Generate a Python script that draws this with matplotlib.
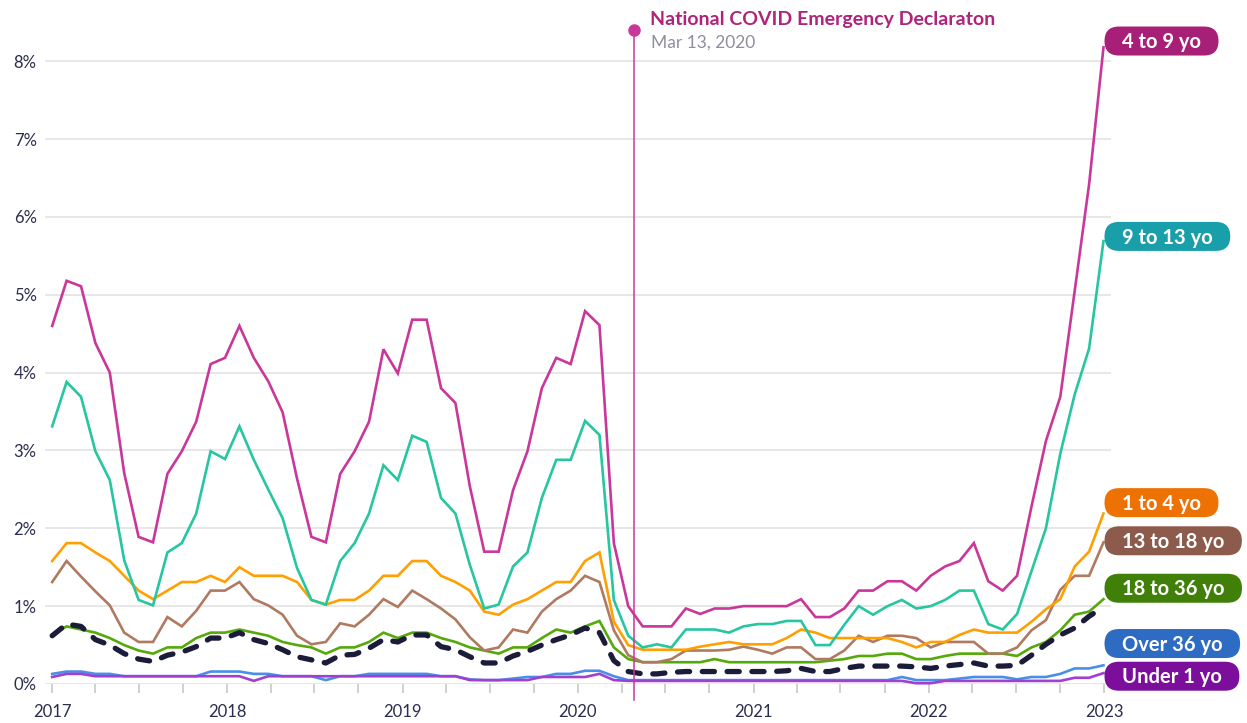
import matplotlib
matplotlib.use('Agg')
import matplotlib.pyplot as plt
import matplotlib.dates as mdates
from matplotlib.patches import FancyBboxPatch
from matplotlib.transforms import IdentityTransform
import pandas as pd

plt.rcParams['font.family'] = ['Lato', 'DejaVu Sans']

# ---------------- data ----------------
periods = pd.date_range('2017-01-01', periods=74, freq='30D')

age_4_9 = [4.60, 5.18, 5.11, 4.38, 4.00, 2.71, 1.89, 1.82, 2.70, 2.99, 3.37, 4.11, 4.19, 4.60, 4.19, 3.89, 3.49, 2.64, 1.89, 1.82, 2.70, 2.99, 3.37, 4.30, 3.99,
           4.68, 4.68, 3.80, 3.61, 2.54, 1.70, 1.70, 2.49, 2.99, 3.80, 4.19, 4.11, 4.79, 4.61, 1.81, 1.00,
           0.74, 0.74, 0.74, 0.97, 0.90, 0.97, 0.97,
           1.00, 1.00, 1.00, 1.00,
           1.09, 0.86, 0.86, 0.97, 1.20, 1.20, 1.32, 1.32, 1.20, 1.39, 1.51, 1.58, 1.81, 1.32, 1.20, 1.39,
           2.28, 3.12, 3.69, 5.05, 6.42, 8.18]

age_9_13 = [3.31, 3.88, 3.69, 2.99, 2.62, 1.59, 1.08, 1.01, 1.69, 1.81, 2.19, 2.99, 2.89, 3.31, 2.88, 2.50, 2.13, 1.49, 1.08, 1.02, 1.58, 1.81, 2.19, 2.81, 2.62,
            3.19, 3.11, 2.39, 2.19, 1.53, 0.97, 1.02, 1.51, 1.69, 2.39, 2.88, 2.88, 3.38, 3.20, 1.08, 0.62,
            0.47, 0.51, 0.47, 0.70, 0.70, 0.70, 0.66,
            0.74, 0.77, 0.77, 0.81, 0.81, 0.50, 0.50, 0.76, 1.00, 0.89, 1.00, 1.08, 0.97, 1.00, 1.08, 1.20, 1.20, 0.77, 0.70, 0.90,
            1.45, 2.00, 2.96, 3.72, 4.31, 5.69]

age_1_4 = [1.58, 1.81, 1.81, 1.69, 1.58, 1.39, 1.20, 1.09, 1.20, 1.31, 1.31, 1.39, 1.31, 1.50, 1.39, 1.39, 1.39, 1.31, 1.08, 1.02, 1.08, 1.08, 1.20, 1.39, 1.39,
           1.58, 1.58, 1.39, 1.31, 1.20, 0.93, 0.89, 1.02, 1.09, 1.20, 1.31, 1.31, 1.58, 1.69, 0.80, 0.50,
           0.44, 0.44, 0.44, 0.44, 0.48, 0.51, 0.54,
           0.51, 0.51, 0.51, 0.59, 0.70, 0.66, 0.59, 0.59, 0.59, 0.59, 0.59, 0.54, 0.47, 0.54, 0.54, 0.63, 0.70, 0.66, 0.66, 0.66,
           0.80, 0.96, 1.09, 1.51, 1.70, 2.19]

age_13_18 = [1.31, 1.58, 1.38, 1.19, 1.01, 0.66, 0.54, 0.54, 0.86, 0.74, 0.94, 1.20, 1.20, 1.31, 1.09, 1.01, 0.89, 0.62, 0.51, 0.54, 0.78, 0.74, 0.89, 1.09, 0.99,
             1.20, 1.09, 0.97, 0.83, 0.60, 0.43, 0.47, 0.70, 0.66, 0.93, 1.09, 1.20, 1.39, 1.31, 0.69, 0.37,
             0.28, 0.28, 0.32, 0.43, 0.43, 0.43, 0.44,
             0.48, 0.44, 0.39, 0.47, 0.47, 0.32, 0.32, 0.43, 0.62, 0.54, 0.62, 0.62, 0.59, 0.47, 0.54, 0.54, 0.54, 0.39, 0.39, 0.47,
             0.69, 0.82, 1.21, 1.39, 1.39, 1.82]

age_18_36 = [0.63, 0.74, 0.70, 0.66, 0.59, 0.50, 0.43, 0.39, 0.47, 0.47, 0.59, 0.66, 0.66, 0.70, 0.66, 0.62, 0.54, 0.50, 0.47, 0.39, 0.47, 0.47, 0.54, 0.66, 0.59,
             0.66, 0.66, 0.59, 0.54, 0.47, 0.43, 0.39, 0.47, 0.47, 0.59, 0.70, 0.66, 0.74, 0.81, 0.47, 0.32,
             0.28, 0.28, 0.28, 0.28, 0.28, 0.32, 0.28,
             0.28, 0.28, 0.28, 0.28, 0.28, 0.28, 0.30, 0.32, 0.36, 0.36, 0.39, 0.39, 0.32, 0.32, 0.36, 0.39, 0.39, 0.39, 0.39, 0.36,
             0.47, 0.54, 0.69, 0.89, 0.93, 1.09]

over_36 = [0.13, 0.16, 0.16, 0.13, 0.13, 0.10, 0.10, 0.10, 0.10, 0.10, 0.10, 0.16, 0.16, 0.16, 0.13, 0.13, 0.10, 0.10, 0.10, 0.05, 0.10, 0.10, 0.13, 0.13, 0.13,
           0.13, 0.13, 0.10, 0.10, 0.06, 0.05, 0.05, 0.07, 0.09, 0.09, 0.13, 0.13, 0.17, 0.17, 0.10, 0.05,
           0.05, 0.05, 0.05, 0.05, 0.05, 0.05, 0.05,
           0.05, 0.05, 0.05, 0.05, 0.05, 0.05, 0.05, 0.05, 0.05, 0.05, 0.05, 0.09, 0.05, 0.05, 0.05, 0.07, 0.09, 0.09, 0.09, 0.06,
           0.09, 0.09, 0.13, 0.20, 0.20, 0.24]

under_1 = [0.09, 0.13, 0.13, 0.10, 0.10, 0.10, 0.10, 0.10, 0.10, 0.10, 0.10, 0.10, 0.10, 0.10, 0.04, 0.10, 0.10, 0.10, 0.10, 0.10, 0.10, 0.10, 0.10, 0.10, 0.10,
           0.10, 0.10, 0.10, 0.10, 0.05, 0.05, 0.05, 0.05, 0.05, 0.09, 0.09, 0.09, 0.09, 0.13, 0.05, 0.04,
           0.04, 0.04, 0.04, 0.04, 0.04, 0.04, 0.04,
           0.04, 0.04, 0.04, 0.04, 0.04, 0.04, 0.04, 0.04, 0.04, 0.04, 0.04, 0.04, 0.01, 0.01, 0.04, 0.04, 0.04, 0.04, 0.04, 0.04,
           0.04, 0.04, 0.04, 0.08, 0.08, 0.14]

overall = [0.62, 0.77, 0.74, 0.57, 0.50, 0.39, 0.32, 0.29, 0.37, 0.41, 0.48, 0.59, 0.59, 0.66, 0.57, 0.52, 0.44, 0.35, 0.31, 0.27, 0.37, 0.38, 0.46, 0.57, 0.54,
           0.63, 0.63, 0.48, 0.44, 0.35, 0.27, 0.27, 0.36, 0.42, 0.50, 0.57, 0.63, 0.72, 0.66, 0.30, 0.16,
           0.13, 0.13, 0.15, 0.16, 0.16, 0.16, 0.16,
           0.16, 0.16, 0.16, 0.17, 0.20, 0.16, 0.16, 0.20, 0.23, 0.23, 0.23, 0.23, 0.22, 0.20, 0.23, 0.25, 0.27, 0.23, 0.23, 0.24,
           0.37, 0.51, 0.63, 0.72, 0.87, 0.99]

series = [
    # name, values, line colour, label box colour, label y (%)
    ('Over 36 yo', over_36, '#4A8FE7', '#2E6BC3', 0.52),
    ('Under 1 yo', under_1, '#A13FD0', '#7B0E9B', 0.10),
    ('18 to 36 yo', age_18_36, '#55A90A', '#408009', 1.23),
    ('13 to 18 yo', age_13_18, '#B07A60', '#8C5B4B', 1.84),
    ('1 to 4 yo', age_1_4, '#FFA000', '#EE7203', 2.33),
    ('9 to 13 yo', age_9_13, '#26C6A0', '#189FAA', 5.75),
    ('4 to 9 yo', age_4_9, '#C9379B', '#A81F78', 8.26),
]

covid_date = pd.Timestamp('2020-04-26')
covid_title = 'National COVID Emergency Declaraton'
covid_sub = 'Mar 13, 2020'
y_ticks = [0, 1, 2, 3, 4, 5, 6, 7, 8]

# ---------------- figure ----------------
W, H = 1247, 723
fig = plt.figure(figsize=(W / 100, H / 100), dpi=100)
ax = fig.add_axes([45 / W, 39 / H, (1110.7 - 45) / W, (684 - 45.7) / H])

for name, vals, col, bcol, ly in series:
    ax.plot(periods, vals, color=col, lw=1.9, solid_joinstyle='miter', zorder=3, clip_on=False)

ax.plot(periods, overall, color='#1B1B3A', lw=3.8, linestyle=(0, (2.3, 2.4)),
        dash_capstyle='round', zorder=4, clip_on=False)

ax.set_xlim(pd.Timestamp('2016-12-17'), pd.Timestamp('2023-01-15'))
ax.set_ylim(0, 8.2)

ax.set_yticks(y_ticks)
ax.set_yticklabels([f'{v}%' for v in y_ticks])
ax.yaxis.grid(True, color='#e3e3e3', lw=1.2)
ax.set_axisbelow(True)
for s in ax.spines.values():
    s.set_visible(False)

ax.xaxis.set_major_locator(mdates.YearLocator())
ax.xaxis.set_major_formatter(mdates.DateFormatter('%Y'))
ax.xaxis.set_minor_locator(mdates.MonthLocator(bymonth=[4, 7, 10]))
ax.tick_params(axis='x', which='both', length=6.5, width=1.2, color='#c8c8c8',
               pad=8, labelsize=12, labelcolor='#2B2D4F')
ax.tick_params(axis='y', length=0, pad=6, labelsize=12, labelcolor='#2B2D4F')

# covid marker
ax.plot([covid_date, covid_date], [-0.21, 8.40], color='#C9379B', lw=1.1,
        clip_on=False, zorder=5)
ax.plot([covid_date], [8.40], 'o', color='#C9379B', ms=8, clip_on=False, zorder=6)
ax.annotate(covid_title, xy=(covid_date, 8.40), xytext=(16, 5), textcoords='offset pixels',
            ha='left', va='baseline', fontsize=14, fontweight='bold', color='#B0237B',
            annotation_clip=False)
ax.annotate(covid_sub, xy=(covid_date, 8.40), xytext=(17, -17), textcoords='offset pixels',
            ha='left', va='baseline', fontsize=12.5, color='#8E8E9C',
            annotation_clip=False)

# end labels (pill boxes)
fig.canvas.draw()
renderer = fig.canvas.get_renderer()
last = mdates.date2num(periods[-1])
fs = 14.5
cap_half = 0.358 * fs * 100 / 72
for name, vals, col, bcol, ly in series:
    xl, yc = ax.transData.transform((last, ly))
    xl += 1
    t = fig.text((xl + 18) / W, (yc - cap_half) / H, name, color='white', fontsize=fs,
                 fontweight='bold', ha='left', va='baseline', zorder=11)
    tw = t.get_window_extent(renderer).width
    box = FancyBboxPatch((xl, yc - 14.5), tw + 35, 29,
                         boxstyle='round,pad=0,rounding_size=14.5',
                         transform=IdentityTransform(), facecolor=bcol,
                         edgecolor='none', zorder=10)
    fig.add_artist(box)

fig.savefig('out.png', dpi=100)
